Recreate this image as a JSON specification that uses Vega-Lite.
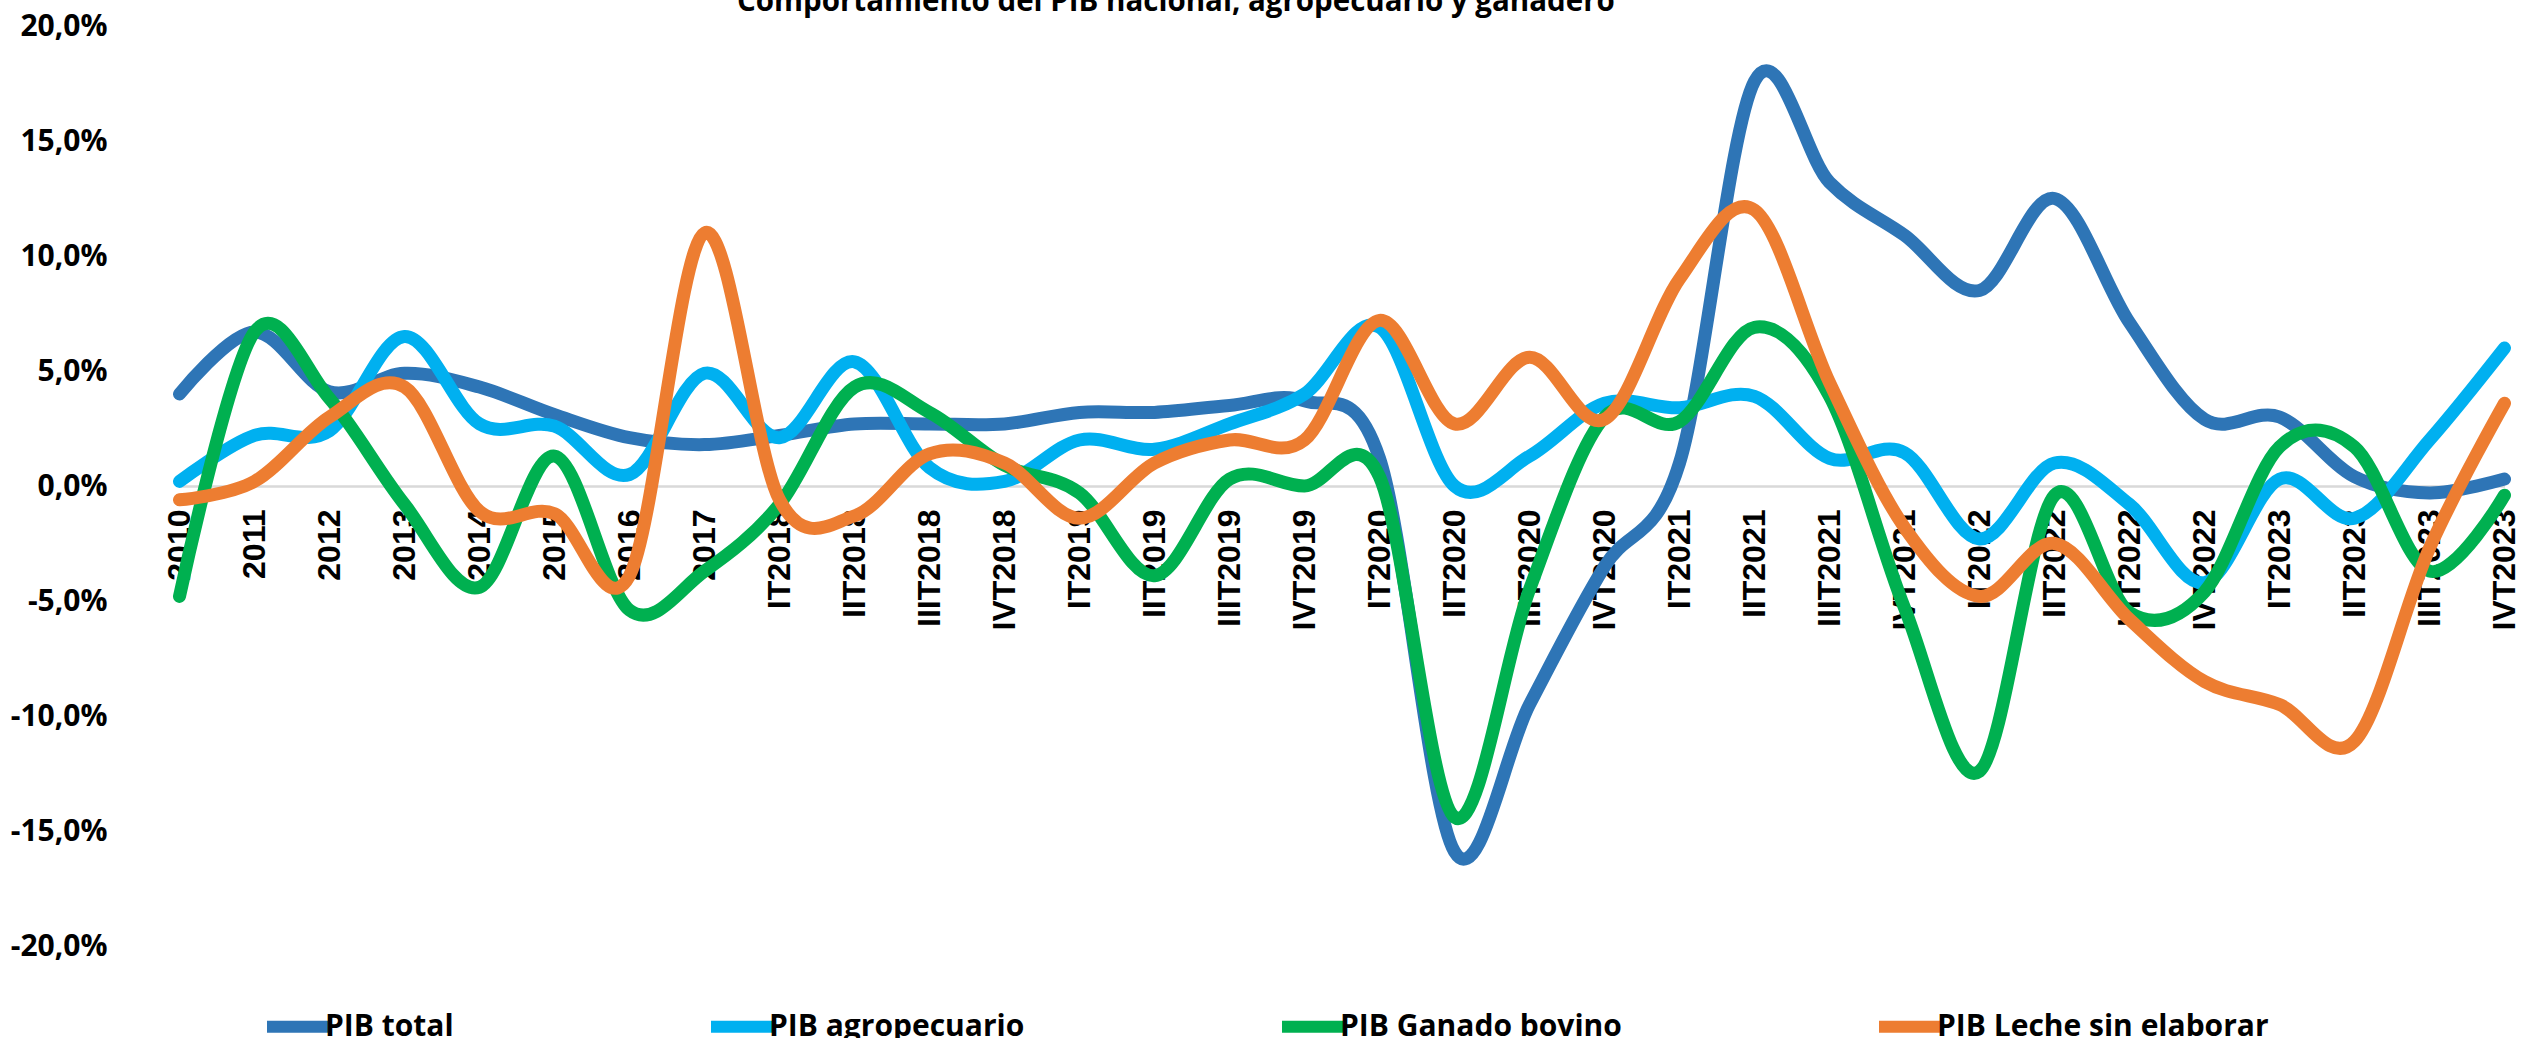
{
  "$schema": "https://vega.github.io/schema/vega-lite/v6.json",
  "width": 2397,
  "height": 920,
  "autosize": {"type": "none"},
  "padding": {"left": 142, "top": 26, "right": 0, "bottom": 92},
  "background": "white",
  "config": {"view": {"stroke": null}},
  "title": {
    "text": "Comportamiento del PIB nacional, agropecuario y ganadero",
    "anchor": "start",
    "frame": "group",
    "dx": 595,
    "dy": 6,
    "offset": 0,
    "font": "Open Sans",
    "fontSize": 29.5,
    "fontWeight": "bold",
    "color": "black"
  },
  "data": {
    "values": [
      {"p": "2010", "s": "PIB total", "v": 4.0},
      {"p": "2011", "s": "PIB total", "v": 6.7},
      {"p": "2012", "s": "PIB total", "v": 4.1},
      {"p": "2013", "s": "PIB total", "v": 4.9},
      {"p": "2014", "s": "PIB total", "v": 4.3},
      {"p": "2015", "s": "PIB total", "v": 3.1},
      {"p": "2016", "s": "PIB total", "v": 2.1},
      {"p": "2017", "s": "PIB total", "v": 1.8},
      {"p": "IT2018", "s": "PIB total", "v": 2.2},
      {"p": "IIT2018", "s": "PIB total", "v": 2.7},
      {"p": "IIIT2018", "s": "PIB total", "v": 2.7},
      {"p": "IVT2018", "s": "PIB total", "v": 2.7},
      {"p": "IT2019", "s": "PIB total", "v": 3.2},
      {"p": "IIT2019", "s": "PIB total", "v": 3.2},
      {"p": "IIIT2019", "s": "PIB total", "v": 3.5},
      {"p": "IVT2019", "s": "PIB total", "v": 3.7},
      {"p": "IT2020", "s": "PIB total", "v": 1.2},
      {"p": "IIT2020", "s": "PIB total", "v": -15.9},
      {"p": "IIIT2020", "s": "PIB total", "v": -9.5},
      {"p": "IVT2020", "s": "PIB total", "v": -3.5},
      {"p": "IT2021", "s": "PIB total", "v": 1.0},
      {"p": "IIT2021", "s": "PIB total", "v": 17.6},
      {"p": "IIIT2021", "s": "PIB total", "v": 13.2},
      {"p": "IVT2021", "s": "PIB total", "v": 10.9},
      {"p": "IT2022", "s": "PIB total", "v": 8.5},
      {"p": "IIT2022", "s": "PIB total", "v": 12.5},
      {"p": "IIIT2022", "s": "PIB total", "v": 7.1},
      {"p": "IVT2022", "s": "PIB total", "v": 2.9},
      {"p": "IT2023", "s": "PIB total", "v": 3.0},
      {"p": "IIT2023", "s": "PIB total", "v": 0.4},
      {"p": "IIIT2023", "s": "PIB total", "v": -0.3},
      {"p": "IVT2023", "s": "PIB total", "v": 0.3},

      {"p": "2010", "s": "PIB agropecuario", "v": 0.2},
      {"p": "2011", "s": "PIB agropecuario", "v": 2.2},
      {"p": "2012", "s": "PIB agropecuario", "v": 2.4},
      {"p": "2013", "s": "PIB agropecuario", "v": 6.5},
      {"p": "2014", "s": "PIB agropecuario", "v": 2.7},
      {"p": "2015", "s": "PIB agropecuario", "v": 2.6},
      {"p": "2016", "s": "PIB agropecuario", "v": 0.5},
      {"p": "2017", "s": "PIB agropecuario", "v": 4.9},
      {"p": "IT2018", "s": "PIB agropecuario", "v": 2.1},
      {"p": "IIT2018", "s": "PIB agropecuario", "v": 5.4},
      {"p": "IIIT2018", "s": "PIB agropecuario", "v": 0.8},
      {"p": "IVT2018", "s": "PIB agropecuario", "v": 0.2},
      {"p": "IT2019", "s": "PIB agropecuario", "v": 2.0},
      {"p": "IIT2019", "s": "PIB agropecuario", "v": 1.6},
      {"p": "IIIT2019", "s": "PIB agropecuario", "v": 2.7},
      {"p": "IVT2019", "s": "PIB agropecuario", "v": 4.0},
      {"p": "IT2020", "s": "PIB agropecuario", "v": 6.9},
      {"p": "IIT2020", "s": "PIB agropecuario", "v": 0.0},
      {"p": "IIIT2020", "s": "PIB agropecuario", "v": 1.3},
      {"p": "IVT2020", "s": "PIB agropecuario", "v": 3.6},
      {"p": "IT2021", "s": "PIB agropecuario", "v": 3.4},
      {"p": "IIT2021", "s": "PIB agropecuario", "v": 3.9},
      {"p": "IIIT2021", "s": "PIB agropecuario", "v": 1.2},
      {"p": "IVT2021", "s": "PIB agropecuario", "v": 1.45},
      {"p": "IT2022", "s": "PIB agropecuario", "v": -2.3},
      {"p": "IIT2022", "s": "PIB agropecuario", "v": 1.0},
      {"p": "IIIT2022", "s": "PIB agropecuario", "v": -0.8},
      {"p": "IVT2022", "s": "PIB agropecuario", "v": -4.2},
      {"p": "IT2023", "s": "PIB agropecuario", "v": 0.3},
      {"p": "IIT2023", "s": "PIB agropecuario", "v": -1.4},
      {"p": "IIIT2023", "s": "PIB agropecuario", "v": 2.0},
      {"p": "IVT2023", "s": "PIB agropecuario", "v": 6.0},

      {"p": "2010", "s": "PIB Ganado bovino", "v": -4.8},
      {"p": "2011", "s": "PIB Ganado bovino", "v": 6.7},
      {"p": "2012", "s": "PIB Ganado bovino", "v": 3.8},
      {"p": "2013", "s": "PIB Ganado bovino", "v": -0.8},
      {"p": "2014", "s": "PIB Ganado bovino", "v": -4.4},
      {"p": "2015", "s": "PIB Ganado bovino", "v": 1.3},
      {"p": "2016", "s": "PIB Ganado bovino", "v": -5.4},
      {"p": "2017", "s": "PIB Ganado bovino", "v": -3.7},
      {"p": "IT2018", "s": "PIB Ganado bovino", "v": -0.8},
      {"p": "IIT2018", "s": "PIB Ganado bovino", "v": 4.3},
      {"p": "IIIT2018", "s": "PIB Ganado bovino", "v": 3.2},
      {"p": "IVT2018", "s": "PIB Ganado bovino", "v": 0.9},
      {"p": "IT2019", "s": "PIB Ganado bovino", "v": -0.3},
      {"p": "IIT2019", "s": "PIB Ganado bovino", "v": -3.9},
      {"p": "IIIT2019", "s": "PIB Ganado bovino", "v": 0.3},
      {"p": "IVT2019", "s": "PIB Ganado bovino", "v": 0.0},
      {"p": "IT2020", "s": "PIB Ganado bovino", "v": 0.4},
      {"p": "IIT2020", "s": "PIB Ganado bovino", "v": -14.4},
      {"p": "IIIT2020", "s": "PIB Ganado bovino", "v": -4.5},
      {"p": "IVT2020", "s": "PIB Ganado bovino", "v": 3.0},
      {"p": "IT2021", "s": "PIB Ganado bovino", "v": 2.8},
      {"p": "IIT2021", "s": "PIB Ganado bovino", "v": 6.9},
      {"p": "IIIT2021", "s": "PIB Ganado bovino", "v": 3.9},
      {"p": "IVT2021", "s": "PIB Ganado bovino", "v": -5.3},
      {"p": "IT2022", "s": "PIB Ganado bovino", "v": -12.4},
      {"p": "IIT2022", "s": "PIB Ganado bovino", "v": -0.4},
      {"p": "IIIT2022", "s": "PIB Ganado bovino", "v": -5.5},
      {"p": "IVT2022", "s": "PIB Ganado bovino", "v": -4.6},
      {"p": "IT2023", "s": "PIB Ganado bovino", "v": 1.7},
      {"p": "IIT2023", "s": "PIB Ganado bovino", "v": 1.7},
      {"p": "IIIT2023", "s": "PIB Ganado bovino", "v": -3.7},
      {"p": "IVT2023", "s": "PIB Ganado bovino", "v": -0.4},

      {"p": "2010", "s": "PIB Leche sin elaborar", "v": -0.6},
      {"p": "2011", "s": "PIB Leche sin elaborar", "v": 0.2},
      {"p": "2012", "s": "PIB Leche sin elaborar", "v": 3.0},
      {"p": "2013", "s": "PIB Leche sin elaborar", "v": 4.3},
      {"p": "2014", "s": "PIB Leche sin elaborar", "v": -1.1},
      {"p": "2015", "s": "PIB Leche sin elaborar", "v": -1.2},
      {"p": "2016", "s": "PIB Leche sin elaborar", "v": -3.9},
      {"p": "2017", "s": "PIB Leche sin elaborar", "v": 11.0},
      {"p": "IT2018", "s": "PIB Leche sin elaborar", "v": -0.6},
      {"p": "IIT2018", "s": "PIB Leche sin elaborar", "v": -1.3},
      {"p": "IIIT2018", "s": "PIB Leche sin elaborar", "v": 1.4},
      {"p": "IVT2018", "s": "PIB Leche sin elaborar", "v": 1.0},
      {"p": "IT2019", "s": "PIB Leche sin elaborar", "v": -1.4},
      {"p": "IIT2019", "s": "PIB Leche sin elaborar", "v": 1.0},
      {"p": "IIIT2019", "s": "PIB Leche sin elaborar", "v": 2.0},
      {"p": "IVT2019", "s": "PIB Leche sin elaborar", "v": 2.0},
      {"p": "IT2020", "s": "PIB Leche sin elaborar", "v": 7.2},
      {"p": "IIT2020", "s": "PIB Leche sin elaborar", "v": 2.7},
      {"p": "IIIT2020", "s": "PIB Leche sin elaborar", "v": 5.6},
      {"p": "IVT2020", "s": "PIB Leche sin elaborar", "v": 2.9},
      {"p": "IT2021", "s": "PIB Leche sin elaborar", "v": 9.0},
      {"p": "IIT2021", "s": "PIB Leche sin elaborar", "v": 12.0},
      {"p": "IIIT2021", "s": "PIB Leche sin elaborar", "v": 4.5},
      {"p": "IVT2021", "s": "PIB Leche sin elaborar", "v": -1.8},
      {"p": "IT2022", "s": "PIB Leche sin elaborar", "v": -4.8},
      {"p": "IIT2022", "s": "PIB Leche sin elaborar", "v": -2.5},
      {"p": "IIIT2022", "s": "PIB Leche sin elaborar", "v": -5.8},
      {"p": "IVT2022", "s": "PIB Leche sin elaborar", "v": -8.5},
      {"p": "IT2023", "s": "PIB Leche sin elaborar", "v": -9.5},
      {"p": "IIT2023", "s": "PIB Leche sin elaborar", "v": -11.1},
      {"p": "IIIT2023", "s": "PIB Leche sin elaborar", "v": -2.7},
      {"p": "IVT2023", "s": "PIB Leche sin elaborar", "v": 3.6}
    ]
  },
  "mark": {
    "type": "line",
    "interpolate": "cardinal",
    "strokeWidth": 13,
    "strokeCap": "round",
    "strokeJoin": "round"
  },
  "encoding": {
    "x": {
      "field": "p",
      "type": "nominal",
      "sort": null,
      "scale": {"type": "point", "range": [37.5, 2362.5], "padding": 0},
      "axis": {
        "title": null,
        "offset": -460,
        "domain": true,
        "domainColor": "#d9d9d9",
        "domainWidth": 2.5,
        "ticks": false,
        "labelAngle": -90,
        "labelPadding": 23,
        "labelFont": "Liberation Sans",
        "labelFontSize": 32,
        "labelFontWeight": "bold",
        "labelColor": "black",
        "labelOverlap": false,
        "labelLimit": 400,
        "grid": false
      }
    },
    "y": {
      "field": "v",
      "type": "quantitative",
      "scale": {"domain": [-20, 20], "nice": false, "zero": false},
      "axis": {
        "title": null,
        "values": [-20, -15, -10, -5, 0, 5, 10, 15, 20],
        "labelExpr": "replace(replace(format(datum.value, '.1f'), '.', ','), '\u2212', '-') + '%'",
        "domain": false,
        "ticks": false,
        "grid": false,
        "labelPadding": 35,
        "labelFont": "Open Sans",
        "labelFontSize": 30,
        "labelFontWeight": "bold",
        "labelColor": "black",
        "labelOverlap": false
      }
    },
    "color": {
      "field": "s",
      "type": "nominal",
      "sort": null,
      "scale": {
        "domain": ["PIB total", "PIB agropecuario", "PIB Ganado bovino", "PIB Leche sin elaborar"],
        "range": ["#2E75B6", "#00B0F0", "#00B050", "#ED7D31"]
      },
      "legend": {
        "orient": "none",
        "legendX": 119,
        "legendY": 964,
        "direction": "horizontal",
        "columns": 4,
        "columnPadding": 233,
        "title": null,
        "padding": 0,
        "labelFont": "Open Sans",
        "labelFontSize": 30,
        "labelFontWeight": "bold",
        "labelColor": "black",
        "labelOffset": -9,
        "labelLimit": 1000,
        "symbolType": "stroke",
        "symbolStrokeWidth": 12,
        "symbolSize": 3721
      }
    }
  }
}
